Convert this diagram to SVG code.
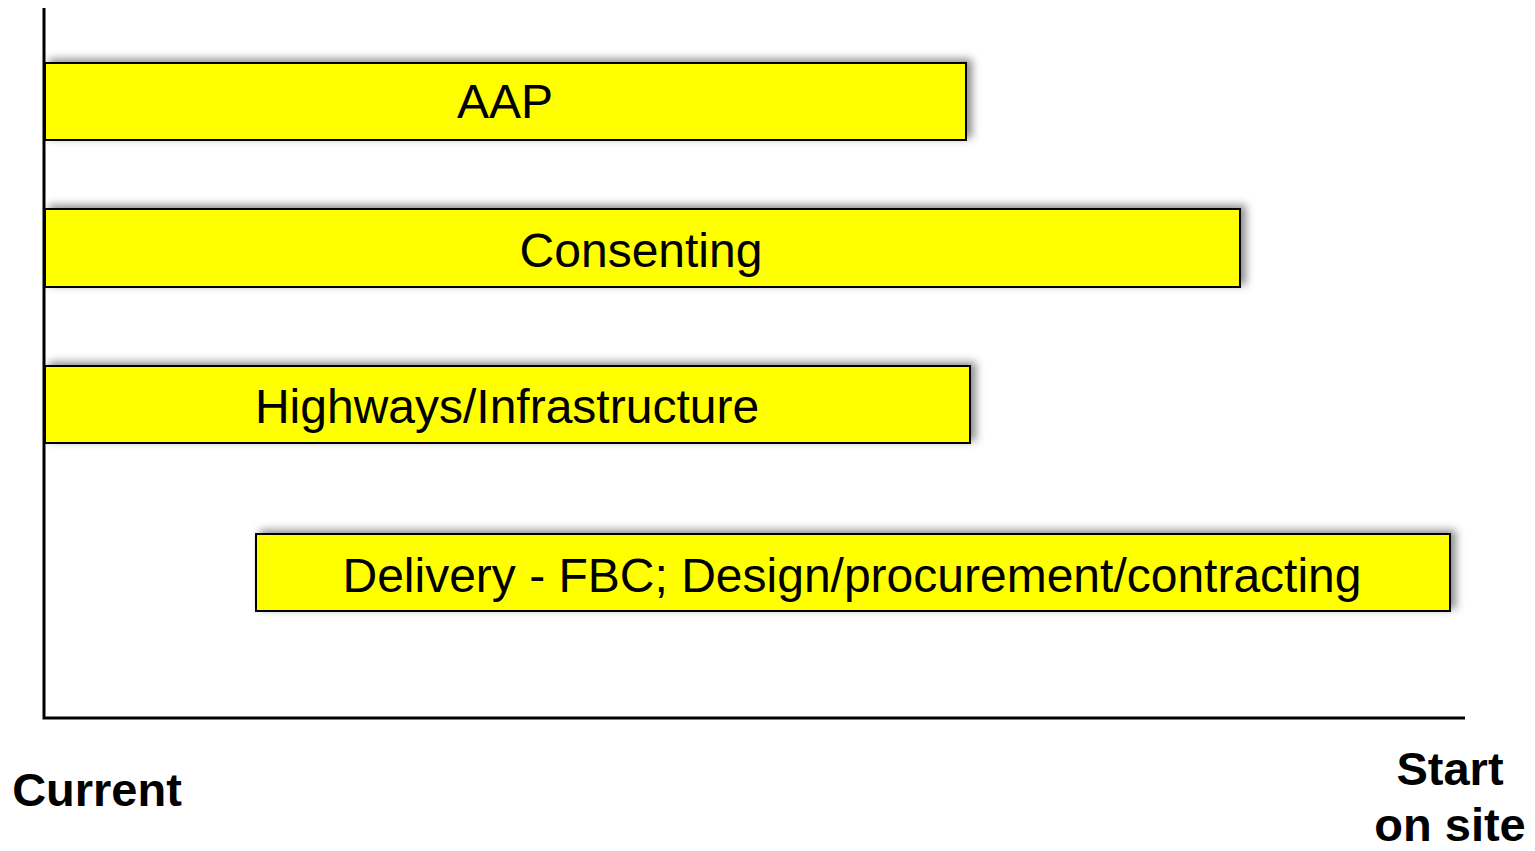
<svg xmlns="http://www.w3.org/2000/svg" width="1535" height="851" viewBox="0 0 1535 851">
<style>
.bar{fill:#ffff00;stroke:#000;stroke-width:2;filter:url(#sh)}
.lbl{font-family:"Liberation Sans",Arial,sans-serif;font-size:48px;fill:#000;text-anchor:middle}
.ax{font-family:"Liberation Sans",Arial,sans-serif;font-size:47px;font-weight:bold;fill:#000;text-anchor:middle}
.axis{stroke:#000;stroke-width:3;fill:none}
</style>
<defs>
<filter id="sh" x="-5%" y="-30%" width="110%" height="160%">
<feDropShadow dx="5" dy="-3" stdDeviation="4" flood-color="#000" flood-opacity="0.45"/>
</filter>
</defs>
<rect width="1535" height="851" fill="#fff"/>
<g id="bar-aap">
<rect class="bar" x="45" y="63" width="921" height="77"/>
<text class="lbl" x="505" y="118">AAP</text>
</g>
<g id="bar-consenting">
<rect class="bar" x="45" y="209" width="1195" height="78"/>
<text class="lbl" x="641" y="267">Consenting</text>
</g>
<g id="bar-highways">
<rect class="bar" x="45" y="366" width="925" height="77"/>
<text class="lbl" x="507" y="423">Highways/Infrastructure</text>
</g>
<g id="bar-delivery">
<rect class="bar" x="256" y="534" width="1194" height="77"/>
<text class="lbl" x="852" y="592">Delivery - FBC; Design/procurement/contracting</text>
</g>
<g id="connectors">
<polyline class="axis" points="44,8 44,718 1465,718"/>
</g>
<g id="label-current">
<text class="ax" x="97" y="806">Current</text>
</g>
<g id="label-start">
<text class="ax" x="1450" y="785">Start</text>
<text class="ax" x="1450" y="841">on site</text>
</g>
</svg>
